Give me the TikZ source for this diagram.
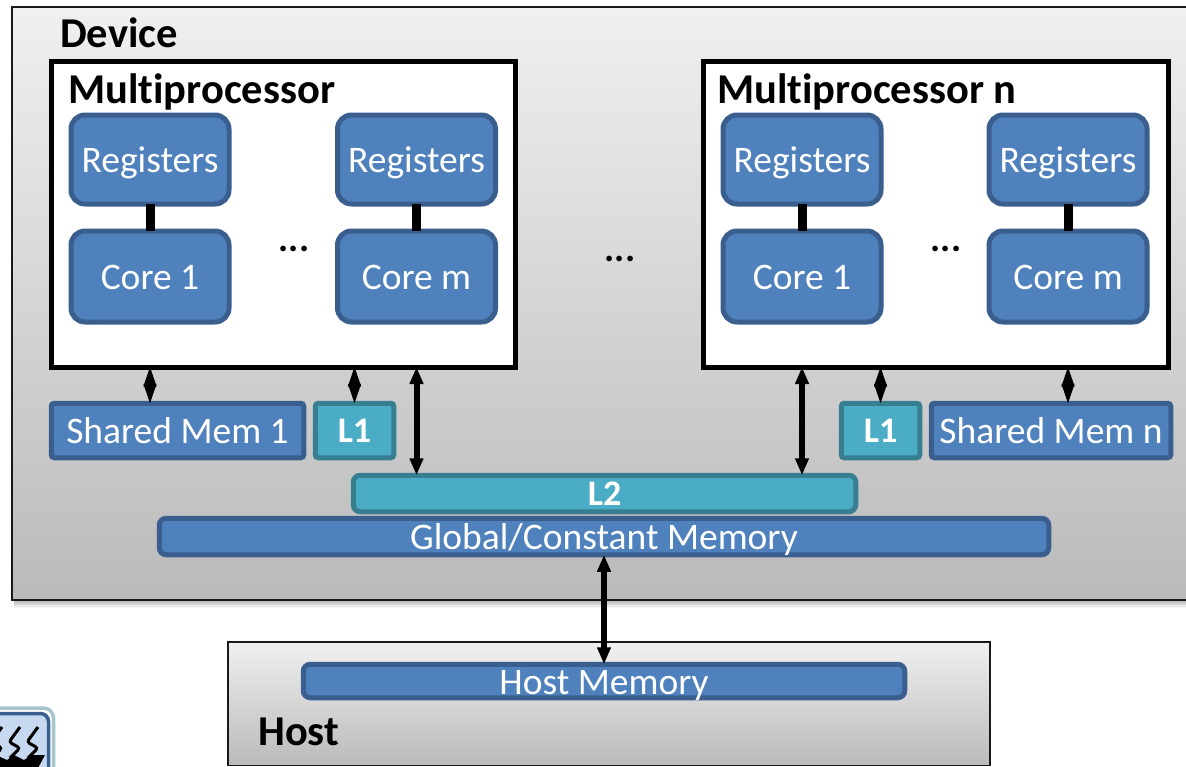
\documentclass[tikz,border=0pt]{standalone}
\usepackage{fontspec}
\setmainfont{Carlito}[Ligatures=NoCommon]
\usetikzlibrary{arrows.meta,calc}
\definecolor{blueF}{HTML}{4F81BD}
\definecolor{blueD}{HTML}{3A5F8E}
\definecolor{tealF}{HTML}{4BACC6}
\definecolor{tealD}{HTML}{377E90}
\definecolor{iconF}{HTML}{C6D9F1}
\definecolor{iconO}{HTML}{A6C6CC}
\definecolor{panelB}{HTML}{BABABA}
\definecolor{panelT}{HTML}{F0F0F0}
\tikzset{
  x=1pt,y=-1pt,
  box/.style={draw=blueD,fill=blueF,line width=5pt,text=white,font=\fontsize{37.5}{37.5}\selectfont,inner sep=0pt,outer sep=0pt,anchor=center,text height=26pt,text depth=0pt},
  rbox/.style={box,rounded corners=14pt,minimum width=158pt,minimum height=89pt},
  cbox/.style={rbox,minimum height=91pt},
  flat/.style={box,rounded corners=3pt},
  pill/.style={box,rounded corners=7pt},
  tealbox/.style={draw=tealD,fill=tealF,font=\fontsize{36}{36}\selectfont\bfseries,text height=24pt},
  mp/.style={draw=black,fill=white,line width=5pt,inner sep=0pt,outer sep=0pt,minimum width=464.5pt,minimum height=306pt},
  panel/.style={draw=black!90,line width=1.5pt,top color=panelT,bottom color=panelB,inner sep=0pt,outer sep=0pt},
  title/.style={font=\fontsize{42.5}{42.5}\selectfont\bfseries,inner sep=0pt,anchor=base west},
  dots/.style={font=\fontsize{38}{38}\selectfont\bfseries,inner sep=0pt,anchor=base},
  link/.style={line width=9pt},
  big/.style={line width=6pt,{Triangle[length=17pt,width=13pt]}-{Triangle[length=17pt,width=13pt]}},
  small/.style={line width=1pt,{Triangle[length=19.5pt,width=13pt]}-{Triangle[length=19.5pt,width=13pt]}},
}
\begin{document}
\begin{tikzpicture}
\useasboundingbox (0,0) rectangle (1186,766);
\begin{scope}
\clip (0,0) rectangle (1186,766);
% soft shadow under the device panel
\shade[top color=black!30,bottom color=white] (14,600) rectangle (1186,608);
\node[panel,minimum width=1180pt,minimum height=593pt] (device) at (602,303.5) {};
\node[panel,minimum width=762pt,minimum height=123.5pt] (host) at (609,703.75) {};
% icon
\draw[draw=iconO,line width=3.5pt,rounded corners=10pt,fill=white] (-20,708) -- (53.5,708) -- (53.5,790);
\draw[draw=blueD,line width=3.5pt,rounded corners=8pt,fill=iconF] (-20,713.5) -- (48.5,713.5) -- (48.5,790) -- (-20,790);
\foreach \dx in {-18,0,18}{
  \draw[line width=3pt,rounded corners=3pt,black] (\dx+20,727) -- (\dx+9,742) -- (\dx+20,748) -- (\dx+10,758);
}
\fill[black] (-2,756) -- (7,760) -- (14,755) -- (24,760) -- (32,755) -- (45,755) -- (38,768) -- (-2,768) -- cycle;
\end{scope}
\node[title] (devlab) at (60,47.5) {Device};
\node[title] (hostlab) at (258,745) {Host};
% multiprocessors
\node[mp] (mpa) at (283.5,214) {};
\node[mp] (mpb) at (936,214) {};
\node[title] (mpalab) at (68,103.5) {Multiprocessor};
\node[title] (mpblab) at (717,103.5) {Multiprocessor n};
% registers and cores
\node[rbox] (ra1) at (150,159.5) {Registers};
\node[rbox] (ram) at (416.5,159.5) {Registers};
\node[rbox] (rb1) at (802,159.5) {Registers};
\node[rbox] (rbm) at (1068,159.5) {Registers};
\node[cbox] (ca1) at (150,276.5) {Core 1};
\node[cbox] (cam) at (416.5,276.5) {Core m};
\node[cbox] (cb1) at (802,276.5) {Core 1};
\node[cbox] (cbm) at (1068,276.5) {Core m};
\draw[link] (ra1) -- (ca1);
\draw[link] (ram) -- (cam);
\draw[link] (rb1) -- (cb1);
\draw[link] (rbm) -- (cbm);
\node[dots] (da) at (294,251) {...};
\node[dots] (dc) at (620,261) {...};
\node[dots] (db) at (946,251) {...};
% memories
\node[flat,minimum width=252.5pt,minimum height=54.5pt] (sma) at (177.5,430.5) {Shared Mem 1};
\node[flat,tealbox,minimum width=78.5pt,minimum height=54.5pt] (la) at (354.5,430.5) {L1};
\node[flat,tealbox,minimum width=78.5pt,minimum height=54.5pt] (lb) at (880.5,430.5) {L1};
\node[flat,minimum width=239.5pt,minimum height=54.5pt] (smb) at (1051,430.5) {Shared Mem n};
\node[pill,tealbox,minimum width=502.5pt,minimum height=36.5pt] (ltwo) at (604.5,493.5) {L2};
\node[pill,minimum width=889.5pt,minimum height=36.5pt] (glob) at (604,536.5) {Global/Constant Memory};
\node[pill,minimum width=601.5pt,minimum height=33.5pt] (hmem) at (604,681) {Host Memory};
% connectors
\draw[small] (sma.north -| ca1) -- (ca1 |- mpa.south);
\draw[small] (la.north) -- (la.north |- mpa.south);
\draw[small] (lb.north) -- (lb.north |- mpb.south);
\draw[small] (cbm |- smb.north) -- (cbm |- mpb.south);
\draw[big] (cam |- mpa.south) -- (cam |- ltwo.north);
\draw[big] (cb1 |- mpb.south) -- (cb1 |- ltwo.north);
\draw[big] (glob.south) -- (hmem.north);
\end{tikzpicture}
\end{document}
